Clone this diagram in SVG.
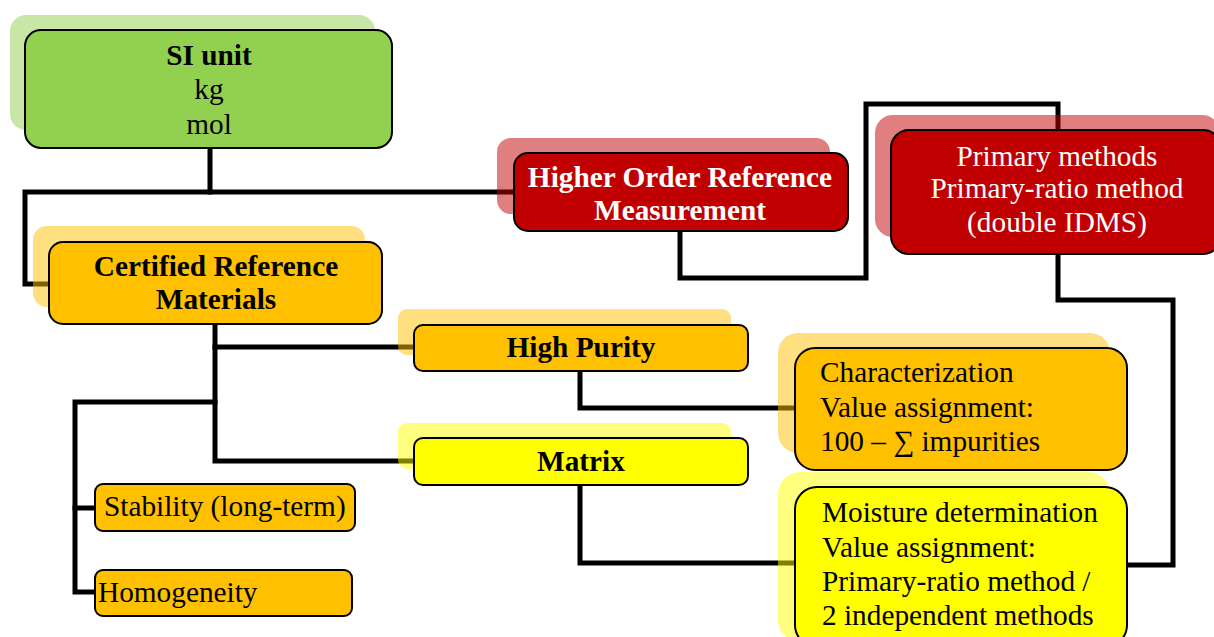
<svg xmlns="http://www.w3.org/2000/svg" width="1214" height="637" viewBox="0 0 1214 637">
<style>
.c{fill:none;stroke:#000;stroke-width:5;stroke-linejoin:miter;stroke-linecap:square}
.box{stroke:#000;stroke-width:2}
.sh{opacity:0.5}
.t{font-family:"Liberation Serif","Times New Roman",serif;font-size:29.3px;fill:#000}
.b{font-weight:bold}
.m{text-anchor:middle}
.w{fill:#fff}
</style>
<rect width="1214" height="637" fill="#fff"/>
<g id="connectors">
<path class="c" d="M210,148 V192 H25 V284 H50"/>
<path class="c" d="M210,192 H515"/>
<path class="c" d="M680,231 V278 H866 V104 H1058 V130"/>
<path class="c" d="M1058,254 V300 H1173 V565 H1127"/>
<path class="c" d="M215,324 V461 H414"/>
<path class="c" d="M215,347 H414"/>
<path class="c" d="M215,402 H75 V592 H97"/>
<path class="c" d="M75,508 H97"/>
<path class="c" d="M580,371 V408 H795"/>
<path class="c" d="M580,485 V563 H795"/>
</g>
<g id="si-unit">
<rect class="sh" x="10" y="15" width="365" height="115" rx="16" fill="#92d050"/>
<rect class="box" x="25" y="30" width="367" height="118" rx="16" fill="#92d050"/>
<text class="t m b" x="209" y="65">SI unit</text>
<text class="t m" x="209" y="99">kg</text>
<text class="t m" x="209" y="134">mol</text>
</g>
<g id="higher-order">
<rect class="sh" x="497" y="138" width="333" height="76" rx="14" fill="#c00000"/>
<rect class="box" x="514" y="153" width="334" height="78" rx="14" fill="#c00000"/>
<text class="t m b w" x="680" y="187">Higher Order Reference</text>
<text class="t m b w" x="680" y="220">Measurement</text>
</g>
<g id="primary-methods">
<rect class="sh" x="875" y="115" width="345" height="122" rx="18" fill="#c00000"/>
<rect class="box" x="891" y="130" width="330" height="124" rx="18" fill="#c00000"/>
<text class="t m w" x="1057" y="166">Primary methods</text>
<text class="t m w" x="1057" y="198">Primary-ratio method</text>
<text class="t m w" x="1057" y="232">(double IDMS)</text>
</g>
<g id="crm">
<rect class="sh" x="33" y="226" width="332" height="81" rx="14" fill="#ffc000"/>
<rect class="box" x="49" y="242" width="333" height="82" rx="14" fill="#ffc000"/>
<text class="t m b" x="216" y="276">Certified Reference</text>
<text class="t m b" x="216" y="309">Materials</text>
</g>
<g id="high-purity">
<rect class="sh" x="398" y="309" width="333" height="46" rx="9" fill="#ffc000"/>
<rect class="box" x="414" y="325" width="334" height="46" rx="9" fill="#ffc000"/>
<text class="t m b" x="581" y="357">High Purity</text>
</g>
<g id="matrix">
<rect class="sh" x="398" y="423" width="333" height="46" rx="9" fill="#ffff00"/>
<rect class="box" x="414" y="438" width="334" height="47" rx="9" fill="#ffff00"/>
<text class="t m b" x="581" y="471">Matrix</text>
</g>
<g id="characterization">
<rect class="sh" x="778" y="333" width="332" height="120" rx="20" fill="#ffc000"/>
<rect class="box" x="795" y="348" width="332" height="122" rx="20" fill="#ffc000"/>
<text class="t" x="820" y="382">Characterization</text>
<text class="t" x="820" y="417">Value assignment:</text>
<text class="t" x="820" y="451">100 – ∑ impurities</text>
</g>
<g id="moisture">
<rect class="sh" x="778" y="472" width="332" height="170" rx="22" fill="#ffff00"/>
<rect class="box" x="795" y="487" width="332" height="160" rx="22" fill="#ffff00"/>
<text class="t" x="822" y="522">Moisture determination</text>
<text class="t" x="822" y="557">Value assignment:</text>
<text class="t" x="822" y="591">Primary-ratio method /</text>
<text class="t" x="822" y="625">2 independent methods</text>
</g>
<g id="stability">
<rect class="box" x="95" y="484" width="260" height="47" rx="8" fill="#ffc000"/>
<text class="t" x="104" y="516">Stability (long-term)</text>
</g>
<g id="homogeneity">
<rect class="box" x="95" y="570" width="257" height="46" rx="8" fill="#ffc000"/>
<text class="t" x="98" y="602">Homogeneity</text>
</g>
</svg>
